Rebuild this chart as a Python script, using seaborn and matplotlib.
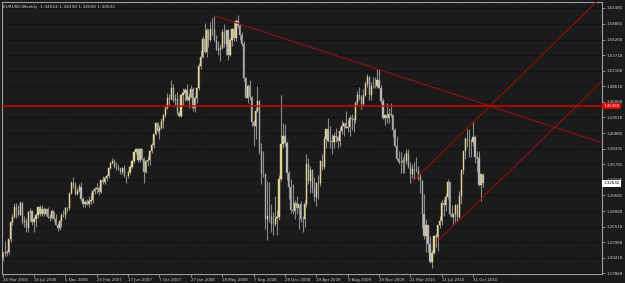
import matplotlib
matplotlib.use("Agg")
import matplotlib.pyplot as plt
import matplotlib.dates as mdates
import numpy as np
import pandas as pd
import seaborn as sns

# ---------------- data (weekly EURUSD bars: open, high, low, close) ----------------
first_week = "2006-03-26"

ohlc_2006 = [
    (1.2045, 1.2150, 1.1980, 1.2118), (1.2118, 1.2320, 1.2070, 1.2115), (1.2115, 1.2160, 1.2065, 1.2125),
    (1.2125, 1.2350, 1.2100, 1.2340), (1.2340, 1.2640, 1.2300, 1.2625), (1.2625, 1.2760, 1.2580, 1.2715),
    (1.2715, 1.2936, 1.2700, 1.2880), (1.2880, 1.2935, 1.2690, 1.2820), (1.2820, 1.2900, 1.2720, 1.2745),
    (1.2745, 1.2979, 1.2740, 1.2935), (1.2935, 1.2950, 1.2600, 1.2620), (1.2620, 1.2720, 1.2550, 1.2640),
    (1.2640, 1.2700, 1.2456, 1.2520), (1.2520, 1.2800, 1.2470, 1.2790), (1.2790, 1.2850, 1.2640, 1.2810),
    (1.2810, 1.2830, 1.2580, 1.2620), (1.2620, 1.2710, 1.2460, 1.2670), (1.2670, 1.2770, 1.2550, 1.2740),
    (1.2740, 1.2880, 1.2700, 1.2880), (1.2880, 1.2900, 1.2720, 1.2765), (1.2765, 1.2900, 1.2730, 1.2845),
    (1.2845, 1.2880, 1.2730, 1.2765), (1.2765, 1.2860, 1.2740, 1.2835), (1.2835, 1.2870, 1.2700, 1.2715),
    (1.2715, 1.2760, 1.2650, 1.2690), (1.2690, 1.2840, 1.2680, 1.2800), (1.2800, 1.2810, 1.2650, 1.2680),
    (1.2680, 1.2760, 1.2570, 1.2585), (1.2585, 1.2610, 1.2484, 1.2530), (1.2530, 1.2670, 1.2500, 1.2650),
    (1.2650, 1.2780, 1.2540, 1.2745), (1.2745, 1.2820, 1.2710, 1.2735), (1.2735, 1.2880, 1.2680, 1.2850),
    (1.2850, 1.2880, 1.2790, 1.2850), (1.2850, 1.3110, 1.2830, 1.3100), (1.3100, 1.3300, 1.3080, 1.3270),
    (1.3270, 1.3367, 1.3180, 1.3230), (1.3230, 1.3290, 1.3070, 1.3085), (1.3085, 1.3180, 1.3070, 1.3140),
    (1.3140, 1.3250, 1.3120, 1.3200),
]
ohlc_2007 = [
    (1.3200, 1.3280, 1.2980, 1.3000), (1.3000, 1.3030, 1.2866, 1.2920), (1.2920, 1.2990, 1.2880, 1.2950),
    (1.2950, 1.3010, 1.2910, 1.2930), (1.2930, 1.3060, 1.2880, 1.2980), (1.2980, 1.3100, 1.2930, 1.2990),
    (1.2990, 1.3150, 1.2940, 1.3130), (1.3130, 1.3200, 1.3080, 1.3170), (1.3170, 1.3270, 1.3100, 1.3185),
    (1.3185, 1.3220, 1.3070, 1.3120), (1.3120, 1.3320, 1.3100, 1.3310), (1.3310, 1.3380, 1.3260, 1.3290),
    (1.3290, 1.3380, 1.3250, 1.3355), (1.3355, 1.3420, 1.3300, 1.3385), (1.3385, 1.3530, 1.3350, 1.3520),
    (1.3520, 1.3620, 1.3500, 1.3595), (1.3595, 1.3682, 1.3580, 1.3635), (1.3635, 1.3670, 1.3520, 1.3535),
    (1.3535, 1.3620, 1.3480, 1.3510), (1.3510, 1.3580, 1.3480, 1.3515), (1.3515, 1.3520, 1.3410, 1.3450),
    (1.3450, 1.3530, 1.3410, 1.3510), (1.3510, 1.3560, 1.3370, 1.3380), (1.3380, 1.3390, 1.3267, 1.3380),
    (1.3380, 1.3460, 1.3350, 1.3450), (1.3450, 1.3560, 1.3420, 1.3535), (1.3535, 1.3640, 1.3520, 1.3625),
    (1.3625, 1.3800, 1.3600, 1.3780), (1.3780, 1.3850, 1.3750, 1.3820), (1.3820, 1.3852, 1.3620, 1.3650),
    (1.3650, 1.3840, 1.3620, 1.3830), (1.3830, 1.3850, 1.3650, 1.3670), (1.3670, 1.3700, 1.3261, 1.3450),
    (1.3450, 1.3640, 1.3430, 1.3630), (1.3630, 1.3720, 1.3550, 1.3650), (1.3650, 1.3810, 1.3570, 1.3790),
    (1.3790, 1.3930, 1.3770, 1.3900), (1.3900, 1.4080, 1.3850, 1.4075), (1.4075, 1.4280, 1.4060, 1.4260),
    (1.4260, 1.4280, 1.4090, 1.4120), (1.4120, 1.4220, 1.4000, 1.4180), (1.4180, 1.4340, 1.4150, 1.4295),
    (1.4295, 1.4400, 1.4180, 1.4390), (1.4390, 1.4530, 1.4350, 1.4500), (1.4500, 1.4750, 1.4480, 1.4660),
    (1.4660, 1.4730, 1.4560, 1.4650), (1.4650, 1.4967, 1.4640, 1.4830), (1.4830, 1.4890, 1.4600, 1.4630),
    (1.4630, 1.4740, 1.4560, 1.4650), (1.4650, 1.4760, 1.4400, 1.4420), (1.4420, 1.4460, 1.4362, 1.4370),
    (1.4370, 1.4740, 1.4360, 1.4720),
]
ohlc_2008 = [
    (1.4720, 1.4830, 1.4550, 1.4750), (1.4750, 1.4840, 1.4620, 1.4800), (1.4800, 1.4890, 1.4620, 1.4630),
    (1.4630, 1.4750, 1.4500, 1.4680), (1.4680, 1.4880, 1.4660, 1.4810), (1.4810, 1.4850, 1.4450, 1.4500),
    (1.4500, 1.4700, 1.4440, 1.4660), (1.4660, 1.4850, 1.4580, 1.4830), (1.4830, 1.5240, 1.4800, 1.5190),
    (1.5190, 1.5460, 1.5150, 1.5350), (1.5350, 1.5680, 1.5320, 1.5640), (1.5640, 1.5905, 1.5400, 1.5430),
    (1.5430, 1.5820, 1.5340, 1.5790), (1.5790, 1.5800, 1.5500, 1.5630), (1.5630, 1.5910, 1.5610, 1.5810),
    (1.5810, 1.5980, 1.5700, 1.5800), (1.5800, 1.6019, 1.5600, 1.5620), (1.5620, 1.5700, 1.5460, 1.5460),
    (1.5460, 1.5600, 1.5380, 1.5470), (1.5470, 1.5560, 1.5283, 1.5490), (1.5490, 1.5800, 1.5480, 1.5760),
    (1.5760, 1.5880, 1.5500, 1.5550), (1.5550, 1.5790, 1.5370, 1.5780), (1.5780, 1.5790, 1.5300, 1.5380),
    (1.5380, 1.5660, 1.5360, 1.5630), (1.5630, 1.5820, 1.5520, 1.5800), (1.5800, 1.5920, 1.5610, 1.5660),
    (1.5660, 1.5960, 1.5610, 1.5940), (1.5940, 1.6038, 1.5820, 1.5860), (1.5860, 1.5890, 1.5620, 1.5710),
    (1.5710, 1.5760, 1.5520, 1.5550), (1.5550, 1.5610, 1.4950, 1.5000), (1.5000, 1.5020, 1.4660, 1.4660),
    (1.4660, 1.4900, 1.4580, 1.4860), (1.4860, 1.4970, 1.4630, 1.4680), (1.4680, 1.4700, 1.4210, 1.4270),
    (1.4270, 1.4300, 1.3881, 1.4210), (1.4210, 1.4500, 1.4000, 1.4460), (1.4460, 1.4865, 1.4430, 1.4620),
    (1.4620, 1.4640, 1.3740, 1.3790), (1.3790, 1.3920, 1.3260, 1.3420), (1.3420, 1.3800, 1.3370, 1.3410),
    (1.3410, 1.3440, 1.2510, 1.2680), (1.2680, 1.3300, 1.2330, 1.2720), (1.2720, 1.3290, 1.2620, 1.2730),
    (1.2730, 1.2930, 1.2460, 1.2600), (1.2600, 1.2790, 1.2420, 1.2590), (1.2590, 1.3050, 1.2560, 1.2690),
    (1.2690, 1.2830, 1.2420, 1.2710), (1.2710, 1.3400, 1.2660, 1.3330), (1.3330, 1.4719, 1.3300, 1.3910),
    (1.3910, 1.4260, 1.3850, 1.4050),
]
ohlc_2009 = [
    (1.4050, 1.4240, 1.3870, 1.3930), (1.3930, 1.3960, 1.3320, 1.3440), (1.3440, 1.3470, 1.3000, 1.3200),
    (1.3200, 1.3340, 1.2770, 1.2830), (1.2830, 1.3250, 1.2760, 1.2810), (1.2810, 1.2990, 1.2680, 1.2940),
    (1.2940, 1.3050, 1.2760, 1.2850), (1.2850, 1.2900, 1.2510, 1.2920), (1.2920, 1.2980, 1.2620, 1.2680),
    (1.2680, 1.2720, 1.2457, 1.2670), (1.2670, 1.2990, 1.2550, 1.2920), (1.2920, 1.3738, 1.2870, 1.3580),
    (1.3580, 1.3680, 1.3250, 1.3300), (1.3300, 1.3550, 1.3110, 1.3480), (1.3480, 1.3500, 1.3100, 1.3190),
    (1.3190, 1.3370, 1.2980, 1.3040), (1.3040, 1.3290, 1.2885, 1.3270), (1.3270, 1.3400, 1.3000, 1.3270),
    (1.3270, 1.3650, 1.3220, 1.3630), (1.3630, 1.3740, 1.3480, 1.3530), (1.3530, 1.4040, 1.3500, 1.3990),
    (1.3990, 1.4160, 1.3850, 1.4160), (1.4160, 1.4338, 1.3950, 1.3960), (1.3960, 1.4200, 1.3840, 1.3960),
    (1.3960, 1.4080, 1.3750, 1.3950), (1.3950, 1.4110, 1.3850, 1.4040), (1.4040, 1.4180, 1.3950, 1.4030),
    (1.4030, 1.4050, 1.3840, 1.3960), (1.3960, 1.4190, 1.3880, 1.4130), (1.4130, 1.4305, 1.4080, 1.4200),
    (1.4200, 1.4260, 1.4040, 1.4260), (1.4260, 1.4450, 1.4170, 1.4180), (1.4180, 1.4310, 1.4110, 1.4190),
    (1.4190, 1.4380, 1.4050, 1.4340), (1.4340, 1.4400, 1.4140, 1.4320), (1.4320, 1.4360, 1.4100, 1.4310),
    (1.4310, 1.4620, 1.4250, 1.4580), (1.4580, 1.4780, 1.4550, 1.4710), (1.4710, 1.4845, 1.4630, 1.4690),
    (1.4690, 1.4720, 1.4480, 1.4570), (1.4570, 1.4810, 1.4540, 1.4710), (1.4710, 1.4950, 1.4700, 1.4900),
    (1.4900, 1.5060, 1.4850, 1.5010), (1.5010, 1.5030, 1.4630, 1.4720), (1.4720, 1.4930, 1.4640, 1.4860),
    (1.4860, 1.5020, 1.4830, 1.4870), (1.4870, 1.5020, 1.4830, 1.4860), (1.4860, 1.5144, 1.4830, 1.4970),
    (1.4970, 1.5140, 1.4840, 1.4840), (1.4840, 1.4880, 1.4580, 1.4620), (1.4620, 1.4670, 1.4320, 1.4340),
    (1.4340, 1.4400, 1.4220, 1.4380),
]
ohlc_2010 = [
    (1.4380, 1.4580, 1.4260, 1.4330), (1.4330, 1.4510, 1.4260, 1.4410), (1.4410, 1.4580, 1.4360, 1.4380),
    (1.4380, 1.4400, 1.4030, 1.4140), (1.4140, 1.4170, 1.3860, 1.3870), (1.3870, 1.4040, 1.3640, 1.3670),
    (1.3670, 1.3800, 1.3580, 1.3620), (1.3620, 1.3780, 1.3440, 1.3610), (1.3610, 1.3700, 1.3440, 1.3630),
    (1.3630, 1.3740, 1.3440, 1.3630), (1.3630, 1.3820, 1.3580, 1.3760), (1.3760, 1.3830, 1.3520, 1.3530),
    (1.3530, 1.3620, 1.3270, 1.3410), (1.3410, 1.3580, 1.3350, 1.3500), (1.3500, 1.3620, 1.3340, 1.3480),
    (1.3480, 1.3690, 1.3450, 1.3490), (1.3490, 1.3550, 1.3310, 1.3370), (1.3370, 1.3440, 1.3110, 1.3300),
    (1.3300, 1.3320, 1.2530, 1.2750), (1.2750, 1.3090, 1.2350, 1.2390), (1.2390, 1.2670, 1.2140, 1.2570),
    (1.2570, 1.2580, 1.2140, 1.2270), (1.2270, 1.2400, 1.1950, 1.1970), (1.1970, 1.2160, 1.1876, 1.2110),
    (1.2110, 1.2420, 1.2100, 1.2390), (1.2390, 1.2440, 1.2210, 1.2380), (1.2380, 1.2580, 1.2150, 1.2570),
    (1.2570, 1.2720, 1.2520, 1.2640), (1.2640, 1.2990, 1.2570, 1.2940), (1.2940, 1.3000, 1.2730, 1.2910),
    (1.2910, 1.3110, 1.2800, 1.3040), (1.3040, 1.3333, 1.3000, 1.3280), (1.3280, 1.3300, 1.2730, 1.2750),
    (1.2750, 1.2900, 1.2710, 1.2710), (1.2710, 1.2770, 1.2588, 1.2750), (1.2750, 1.2920, 1.2620, 1.2900),
    (1.2900, 1.2920, 1.2640, 1.2710), (1.2710, 1.3140, 1.2690, 1.3050), (1.3050, 1.3490, 1.2930, 1.3480),
    (1.3480, 1.3800, 1.3420, 1.3790), (1.3790, 1.4030, 1.3660, 1.4000), (1.4000, 1.4160, 1.3860, 1.3970),
    (1.3970, 1.4160, 1.3700, 1.3960), (1.3960, 1.4000, 1.3700, 1.3940), (1.3940, 1.4281, 1.3870, 1.4030),
    (1.4030, 1.4060, 1.3600, 1.3690), (1.3690, 1.3790, 1.3450, 1.3680), (1.3680, 1.3790, 1.3220, 1.3240),
    (1.3240, 1.3420, 1.2968, 1.3420), (1.34024, 1.34294, 1.32030, 1.32632),
]

chart_title = "EURUSD,Weekly  1.34024 1.34294 1.32030 1.32632"
hline_level = 1.4536
hline_label = "1.45360"
last_price_label = "1.32632"

x_tick_labels = ["26 Mar 2006", "16 Jul 2006", "5 Nov 2006", "25 Feb 2007", "17 Jun 2007",
                 "7 Oct 2007", "27 Jan 2008", "18 May 2008", "7 Sep 2008", "28 Dec 2008",
                 "19 Apr 2009", "9 Aug 2009", "29 Nov 2009", "21 Mar 2010", "11 Jul 2010",
                 "31 Oct 2010"]
y_tick_labels = ["1.17868", "1.20418", "1.22968", "1.25518", "1.28068", "1.30685", "1.33235",
                 "1.35785", "1.38335", "1.40885", "1.43518", "1.46068", "1.48618", "1.51168",
                 "1.53718", "1.56268", "1.58865", "1.61485"]

# trend lines (rays): start point and a second point on the line
trend_names = ["down", "upper", "lower"]
trend_start_dates = ["2008-04-22", "2010-03-24", "2010-06-23"]
trend_start_prices = [1.6019, 1.3268, 1.2297]
trend_next_dates = ["2010-12-30", "2010-12-30", "2011-11-05"]
trend_next_prices = [1.4536, 1.4536, 1.4536]

# ---------------- style ----------------
BG = "#1b1b1b"
GRID = "#080808"
TXT = "#cfcfcf"
FRAME = "#9c9c9c"
BULL = "#e2d293"
BEAR = "#c4c4c4"
WICK = "#8a8a8a"
TREND = "#8c1010"
HLINE = "#d80000"

sns.set_style("dark", {"axes.facecolor": BG, "figure.facecolor": BG,
                       "axes.edgecolor": FRAME, "grid.color": GRID})
plt.rcParams["font.family"] = ["DejaVu Sans"]
FS = 2.9

rows = ohlc_2006 + ohlc_2007 + ohlc_2008 + ohlc_2009 + ohlc_2010
df = pd.DataFrame(rows, columns=["open", "high", "low", "close"])
df["date"] = pd.date_range(first_week, periods=len(df), freq="7D")
df["x"] = mdates.date2num(df["date"])

fig = plt.figure(figsize=(6.25, 2.83), dpi=100)
ax = fig.add_axes([2 / 625, 9 / 283, 600 / 625, 272 / 283])
ax.set_facecolor(BG)

x0 = df["x"].iloc[0]
xlim = (x0 - 2.5, x0 + 2140.4)
ylim = (1.17707, 1.62472)
ax.set_xlim(*xlim)
ax.set_ylim(*ylim)

# grid
ytick_vals = [float(v) for v in y_tick_labels]
ax.set_yticks(ytick_vals)
ax.set_yticklabels(y_tick_labels)
ax.yaxis.tick_right()
ax.grid(axis="y", color=GRID, linestyle=(0, (1, 1.5)), linewidth=0.8)
ax.grid(axis="x", visible=False)

# candles
up = df["close"] >= df["open"]
ax.vlines(df["x"], df["low"], df["high"], colors=WICK, linewidth=0.8, zorder=2)
ax.bar(df.loc[up, "x"], (df["close"] - df["open"])[up], bottom=df.loc[up, "open"],
       width=4.4, color=BULL, edgecolor=BULL, linewidth=0.3, zorder=3)
ax.bar(df.loc[~up, "x"], (df["open"] - df["close"])[~up], bottom=df.loc[~up, "close"],
       width=4.4, color=BEAR, edgecolor=WICK, linewidth=0.3, zorder=3)

# trend-line rays
recs = []
for n, sd, sp, nd, npz in zip(trend_names, trend_start_dates, trend_start_prices,
                              trend_next_dates, trend_next_prices):
    xs = mdates.date2num(pd.Timestamp(sd))
    xn = mdates.date2num(pd.Timestamp(nd))
    slope = (npz - sp) / (xn - xs)
    recs.append({"line": n, "x": xs, "price": sp})
    recs.append({"line": n, "x": xlim[1], "price": sp + slope * (xlim[1] - xs)})
lines_df = pd.DataFrame(recs)
sns.lineplot(data=lines_df, x="x", y="price", units="line", estimator=None, sort=False,
             color=TREND, linewidth=0.85, ax=ax, legend=False, zorder=4)

ax.axhline(hline_level, color=HLINE, linewidth=1.1, zorder=4)

# axes text
ax.set_xlabel("")
ax.set_ylabel("")
xt = mdates.date2num(pd.to_datetime(x_tick_labels, format="%d %b %Y"))
ax.set_xticks(xt)
ax.set_xticklabels(x_tick_labels)
for lab in ax.get_xticklabels():
    lab.set_horizontalalignment("left")
ax.tick_params(axis="x", length=2, width=0.6, colors=FRAME, labelcolor=TXT,
               labelsize=FS, pad=1.2, bottom=True)
ax.tick_params(axis="y", length=2, width=0.6, colors=FRAME, labelcolor=TXT,
               labelsize=FS, pad=1.2, right=True, left=False)

for s in ax.spines.values():
    s.set_visible(True)
    s.set_color(FRAME)
    s.set_linewidth(0.8)

ax.text(0.002, 0.988, chart_title, transform=ax.transAxes, ha="left", va="top",
        fontsize=3.05, color=TXT)

ytr = ax.get_yaxis_transform()
ax.text(1.003, hline_level, hline_label, transform=ytr, ha="left", va="center",
        fontsize=FS, color="white", clip_on=False, zorder=6,
        bbox=dict(boxstyle="square,pad=0.35", facecolor="#e00000", edgecolor="none"))
ax.text(1.003, df["close"].iloc[-1], last_price_label, transform=ytr, ha="left",
        va="center", fontsize=FS, color="black", clip_on=False, zorder=6,
        bbox=dict(boxstyle="square,pad=0.35", facecolor="white", edgecolor="none"))

fig.savefig("out.png", dpi=100, facecolor=BG)
